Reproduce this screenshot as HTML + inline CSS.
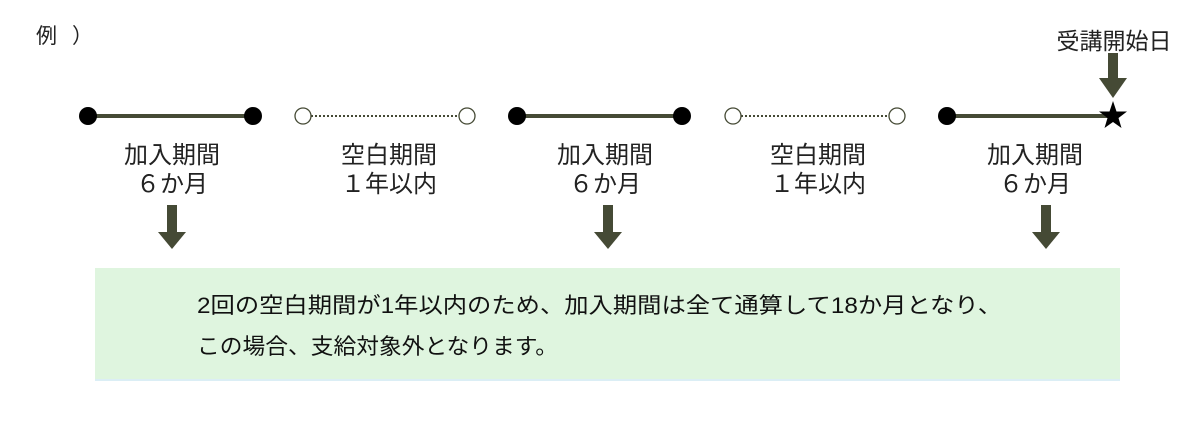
<!DOCTYPE html>
<html><head><meta charset="utf-8"><style>
body{margin:0;background:#fff}
svg text{font-family:"Liberation Sans","Noto Sans CJK JP",sans-serif}
</style></head><body>
<svg width="1200" height="433" viewBox="0 0 1200 433" xmlns="http://www.w3.org/2000/svg">
<text x="36" y="43" font-size="21" fill="#222">例</text>
<text x="72" y="43" font-size="21" fill="#222">）</text>
<text x="1114" y="49" font-size="23" fill="#222" text-anchor="middle">受講開始日</text>
<g fill="#454a35">
<rect x="1108" y="53" width="10" height="25"/><polygon points="1099,78 1127,78 1113,98"/>
<rect x="167" y="205" width="10" height="28"/><polygon points="158,232 186,232 172,249"/>
<rect x="603" y="205" width="10" height="28"/><polygon points="594,232 622,232 608,249"/>
<rect x="1041" y="205" width="10" height="28"/><polygon points="1032,232 1060,232 1046,249"/>
</g>
<g stroke="#454a35" stroke-width="4">
<line x1="88" y1="116" x2="253" y2="116"/>
<line x1="517" y1="116" x2="682" y2="116"/>
<line x1="947" y1="116" x2="1110" y2="116"/>
</g>
<g stroke="#454a35" stroke-width="2" stroke-dasharray="2,2">
<line x1="311" y1="116" x2="459" y2="116"/>
<line x1="741" y1="116" x2="889" y2="116"/>
</g>
<g fill="#000">
<circle cx="88" cy="116" r="9"/><circle cx="253" cy="116" r="9"/>
<circle cx="517" cy="116" r="9"/><circle cx="682" cy="116" r="9"/>
<circle cx="947" cy="116" r="9"/>
</g>
<g fill="#fff" stroke="#454a35" stroke-width="1.3">
<circle cx="303" cy="116" r="8"/><circle cx="467" cy="116" r="8"/>
<circle cx="733" cy="116" r="8"/><circle cx="897" cy="116" r="8"/>
</g>
<polygon fill="#000" points="1113,101 1116.5,111.5 1127,111.5 1118.5,118 1121.5,128 1113,122 1104.5,128 1107.5,118 1099,111.5 1109.5,111.5"/>
<g font-size="24" fill="#222" text-anchor="middle">
<text x="172" y="163">加入期間</text><text x="172" y="192">６か月</text>
<text x="389" y="163">空白期間</text><text x="389" y="192">１年以内</text>
<text x="605" y="163">加入期間</text><text x="605" y="192">６か月</text>
<text x="818" y="163">空白期間</text><text x="818" y="192">１年以内</text>
<text x="1035" y="163">加入期間</text><text x="1035" y="192">６か月</text>
</g>
<rect x="95" y="268" width="1025" height="113" fill="#dff5df"/>
<rect x="95" y="379" width="1025" height="2" fill="#dbeef5"/>
<g font-size="22" fill="#111">
<text x="197" y="313" textLength="805" lengthAdjust="spacingAndGlyphs">2回の空白期間が1年以内のため、加入期間は全て通算して18か月となり、</text>
<text x="197" y="354" textLength="361" lengthAdjust="spacingAndGlyphs">この場合、支給対象外となります。</text>
</g>
</svg>
</body></html>
